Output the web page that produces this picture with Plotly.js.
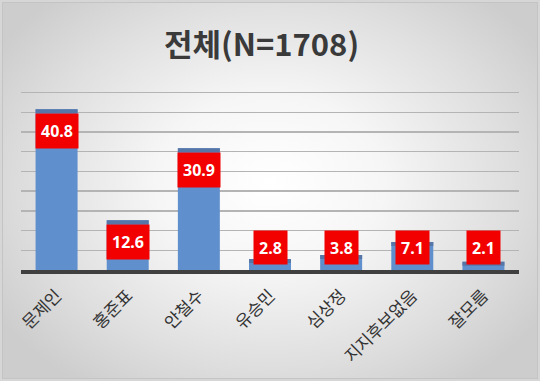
<!DOCTYPE html>
<html>
<head>
<meta charset="utf-8">
<script src="https://cdn.plot.ly/plotly-3.0.1.min.js"></script>
<style>
html,body{margin:0;padding:0;background:#fff;}
#chart{width:540px;height:381px;position:relative;
background:radial-gradient(ellipse 60% 65% at 50% 48%, #ffffff 0%, #f6f6f6 35%, #dedede 75%, #cdcdcd 100%);
box-shadow: inset 0 0 0 2px #d6d6d6, inset 0 0 0 3px #c4c4c4;}
</style>
</head>
<body>
<div id="chart"></div>
<script>
const categories = ["문제인", "홍준표", "안철수", "유승민", "심상정", "지지후보없음", "잘모름"];
const values = [40.8, 12.6, 30.9, 2.8, 3.8, 7.1, 2.1];
const labels = ["40.8", "12.6", "30.9", "2.8", "3.8", "7.1", "2.1"];
const titleText = "전체(N=1708)";

const capH = 1.0;
const bars = {
  type: 'bar', x: categories, y: values,
  marker: {color: '#5f8fcd'}, hoverinfo: 'skip'
};
const caps = {
  type: 'bar', x: categories, y: values.map(v => Math.min(capH, v)),
  base: values.map(v => v - Math.min(capH, v)),
  marker: {color: '#5676a8'}, hoverinfo: 'skip'
};

const annotations = values.map((v, i) => {
  const big = v >= 10;
  return {
    x: categories[i], y: big ? v : 0, xref: 'x', yref: 'y',
    yanchor: big ? 'top' : 'bottom', yshift: big ? -4 : 5,
    text: '<b>' + labels[i] + '</b>', showarrow: false,
    bgcolor: '#f20000', borderpad: 0,
    width: big ? 42 : 33, height: big ? 34 : 33,
    font: {family: 'Noto Sans, Arial, sans-serif', size: 16, color: '#ffffff'}
  };
});

const layout = {
  width: 540, height: 381,
  margin: {l: 21, r: 21, t: 91, b: 111},
  paper_bgcolor: 'rgba(0,0,0,0)', plot_bgcolor: 'rgba(0,0,0,0)',
  showlegend: false, barmode: 'overlay', bargap: 0.41,
  title: {text: '<b>' + titleText + '</b>', x: 0.483, xref: 'paper', xanchor: 'center',
    y: 1 - 45/381, yanchor: 'middle',
    font: {family: 'Noto Sans CJK KR, Noto Sans, sans-serif', size: 31, color: '#3a3a3a'}},
  xaxis: {tickangle: -45, showline: true, linecolor: '#404040', linewidth: 4,
    ticks: '', showgrid: false, ticklabelstandoff: 5,
    tickfont: {family: 'Noto Sans CJK KR, sans-serif', size: 17, color: '#333333'}},
  yaxis: {range: [0, 45.4], dtick: 5, showticklabels: false, showgrid: true,
    gridcolor: '#b4b4b4', gridwidth: 1.5, zeroline: false, showline: false, ticks: ''},
  annotations: annotations
};

Plotly.newPlot('chart', [bars, caps], layout, {displayModeBar: false, staticPlot: true});
</script>
</body>
</html>
